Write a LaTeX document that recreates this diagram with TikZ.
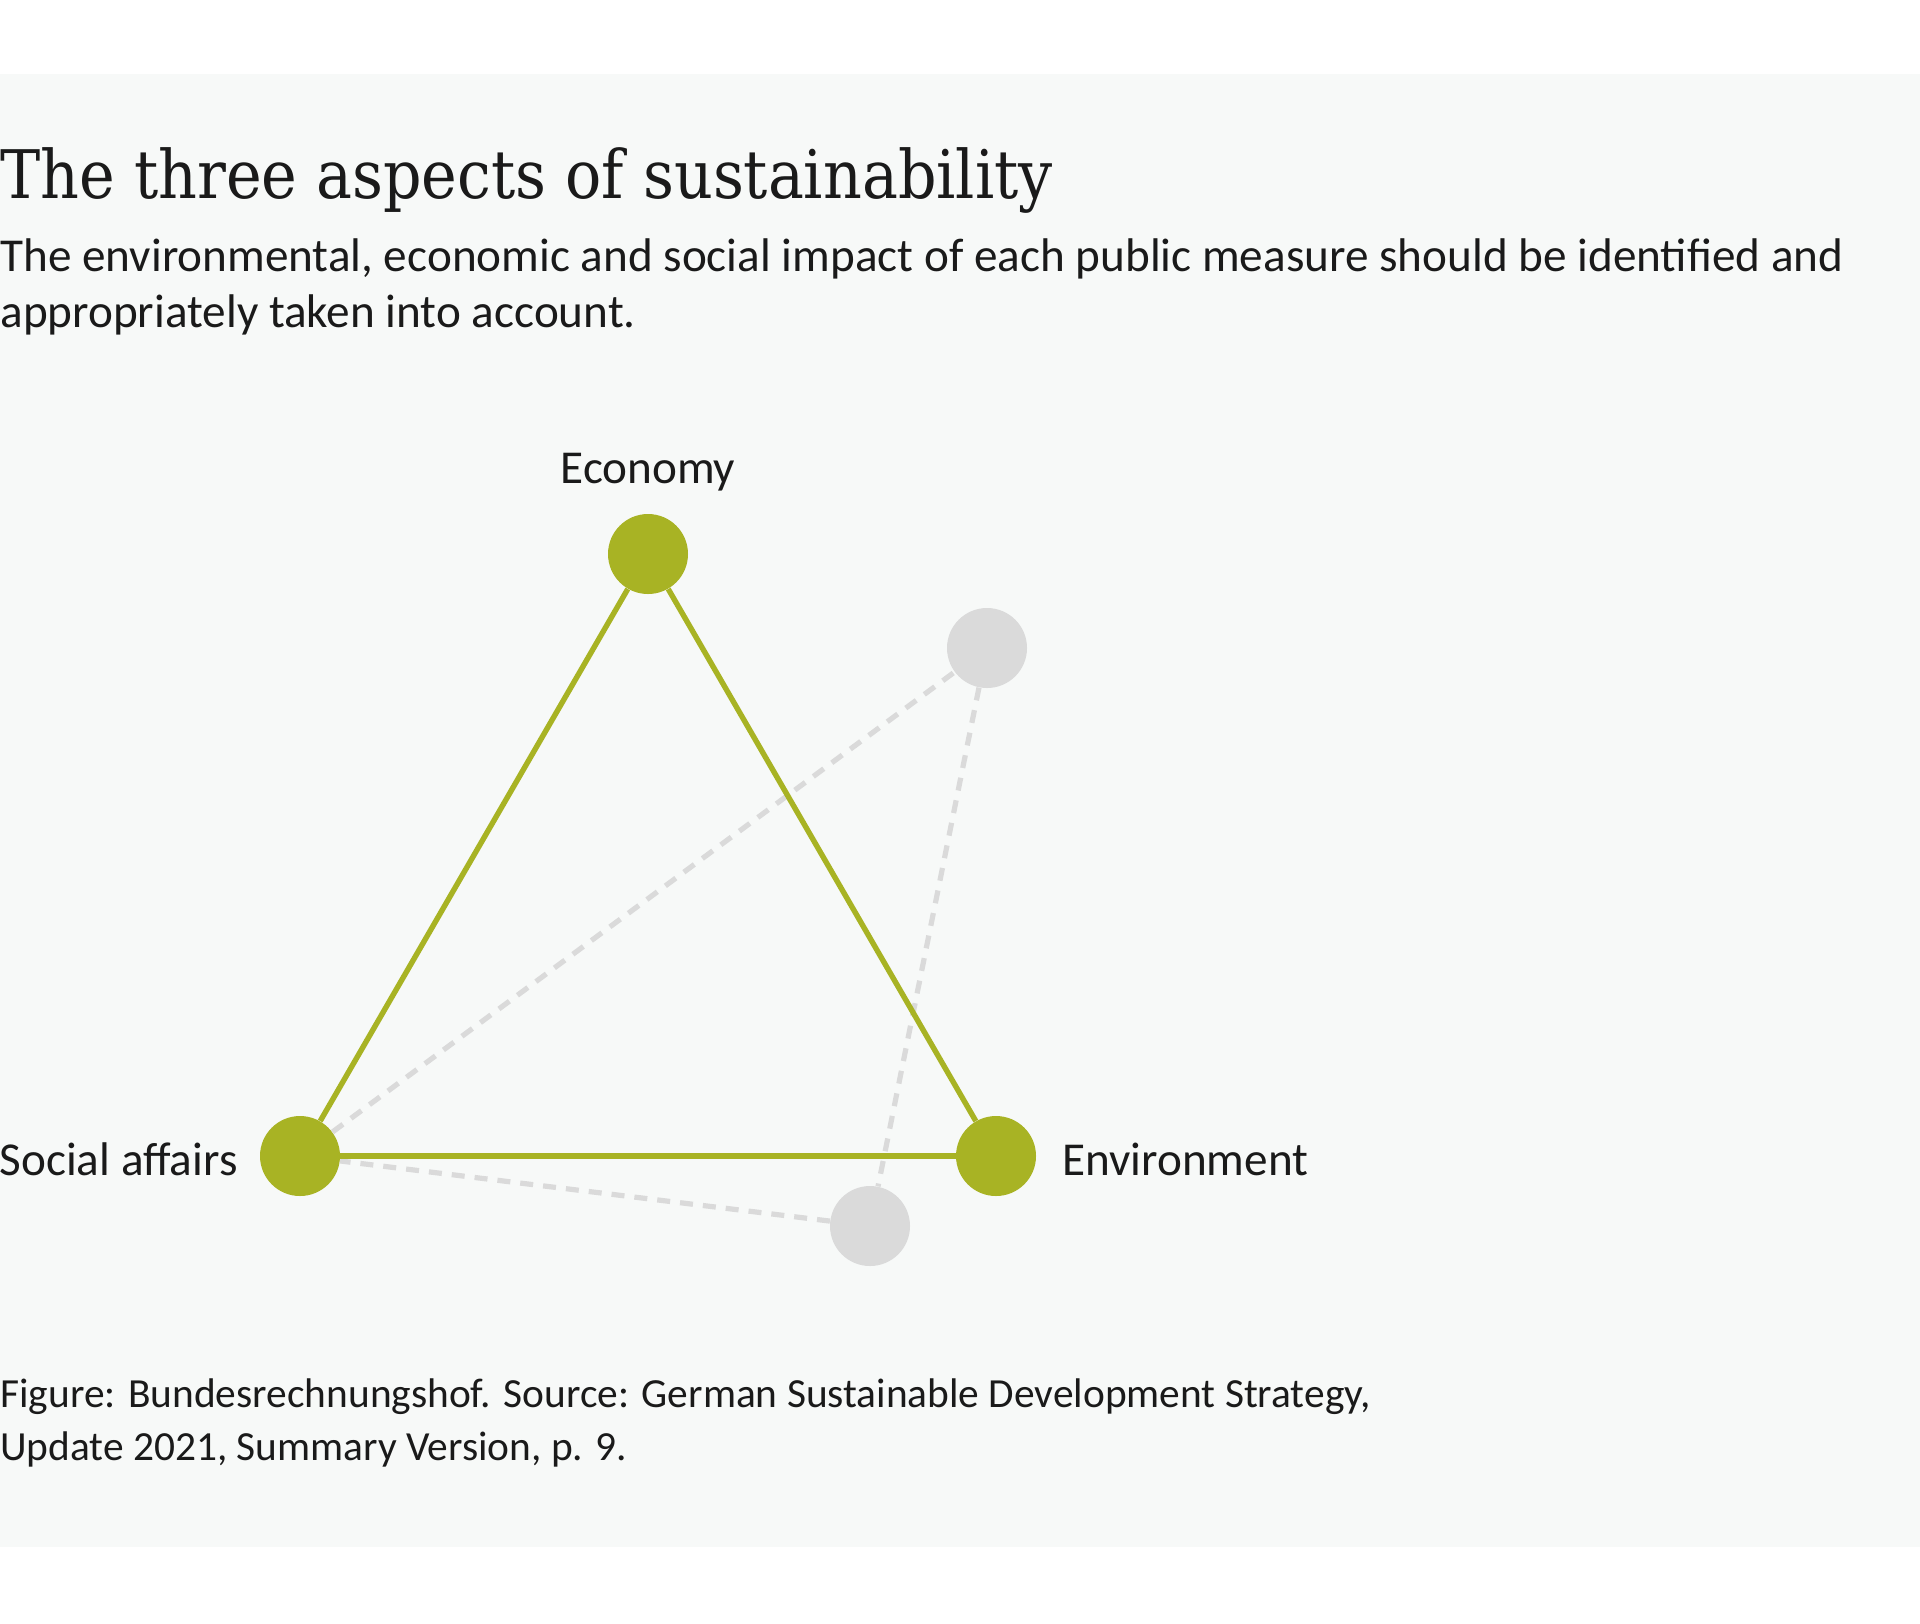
\documentclass[tikz,border=0pt]{standalone}
\usepackage{fontspec}
\setmainfont{Carlito}
\newfontfamily\titlefont{DejaVu Serif Condensed}

\definecolor{panelgrey}{HTML}{F7F9F8}
\definecolor{aspectgreen}{HTML}{A8B324}
\definecolor{shadowgrey}{HTML}{DADADA}
\definecolor{textblack}{HTML}{1A1A1A}

\tikzset{
  greendot/.style={circle, fill=aspectgreen, inner sep=0pt, minimum size=40pt},
  greydot/.style={circle, fill=shadowgrey, inner sep=0pt, minimum size=40pt},
  greenline/.style={draw=aspectgreen, line width=2.7pt},
  greyline/.style={draw=shadowgrey, line width=2.6pt, dash pattern=on 6.5pt off 5pt},
  label/.style={inner sep=0pt, text=textblack, font=\fontsize{23.6}{28}\selectfont},
  textline/.style={inner sep=0pt, anchor=base west, text=textblack}
}

\begin{document}
\begin{tikzpicture}[x=0.5pt, y=-0.5pt]
      % Page and background panel
      \useasboundingbox (0, 0) rectangle (1920, 1623);
      \fill[white] (0, 0) rectangle (1920, 1623);
      \fill[panelgrey] (0, 73.5) rectangle (1920, 1547);

      % Title and subtitle
      \node[textline, font=\titlefont\fontsize{33.5}{40}\selectfont] (title) at (0, 198)
      {The three aspects of sustainability};
      \node[textline, font=\fontsize{23.6}{28}\selectfont] (sub1) at (0, 271)
      {The environmental, economic and social impact of each public measure should be identified and};
      \node[textline, font=\fontsize{23.6}{28}\selectfont] (sub2) at (0, 327)
      {appropriately taken into account.};

      % The grey shifted points
      \node[greydot] (gtop) at (987, 648) {};
      \node[greydot] (gbot) at (870, 1226) {};

      % The three aspects
      \node[greendot] (eco) at (648, 554) {};
      \node[greendot] (soc) at (300, 1156) {};
      \node[greendot] (env) at (996, 1156) {};

      % Dashed lines of the shifted triangle
      \draw[greyline] (soc) -- (gtop);
      \draw[greyline] (gtop) -- (gbot);
      \draw[greyline] (gbot) -- (soc);

      % Lines of the triangle
      \draw[greenline] (eco) -- (soc);
      \draw[greenline] (soc) -- (env);
      \draw[greenline] (env) -- (eco);

      % Labels of the aspects
      \node[label, anchor=base] (ecolabel) at (648, 483) {Economy};
      \node[label, anchor=base east] (soclabel) at (238, 1175) {Social affairs};
      \node[label, anchor=base west] (envlabel) at (1062, 1175) {Environment};

      % Source note
      \node[textline, font=\fontsize{20.7}{25}\selectfont] (src1) at (0, 1407)
      {Figure: Bundesrechnungshof. Source: German Sustainable Development Strategy,};
      \node[textline, font=\fontsize{20.7}{25}\selectfont] (src2) at (0, 1460)
      {Update 2021, Summary Version, p. 9.};
    \end{tikzpicture}
\end{document}
